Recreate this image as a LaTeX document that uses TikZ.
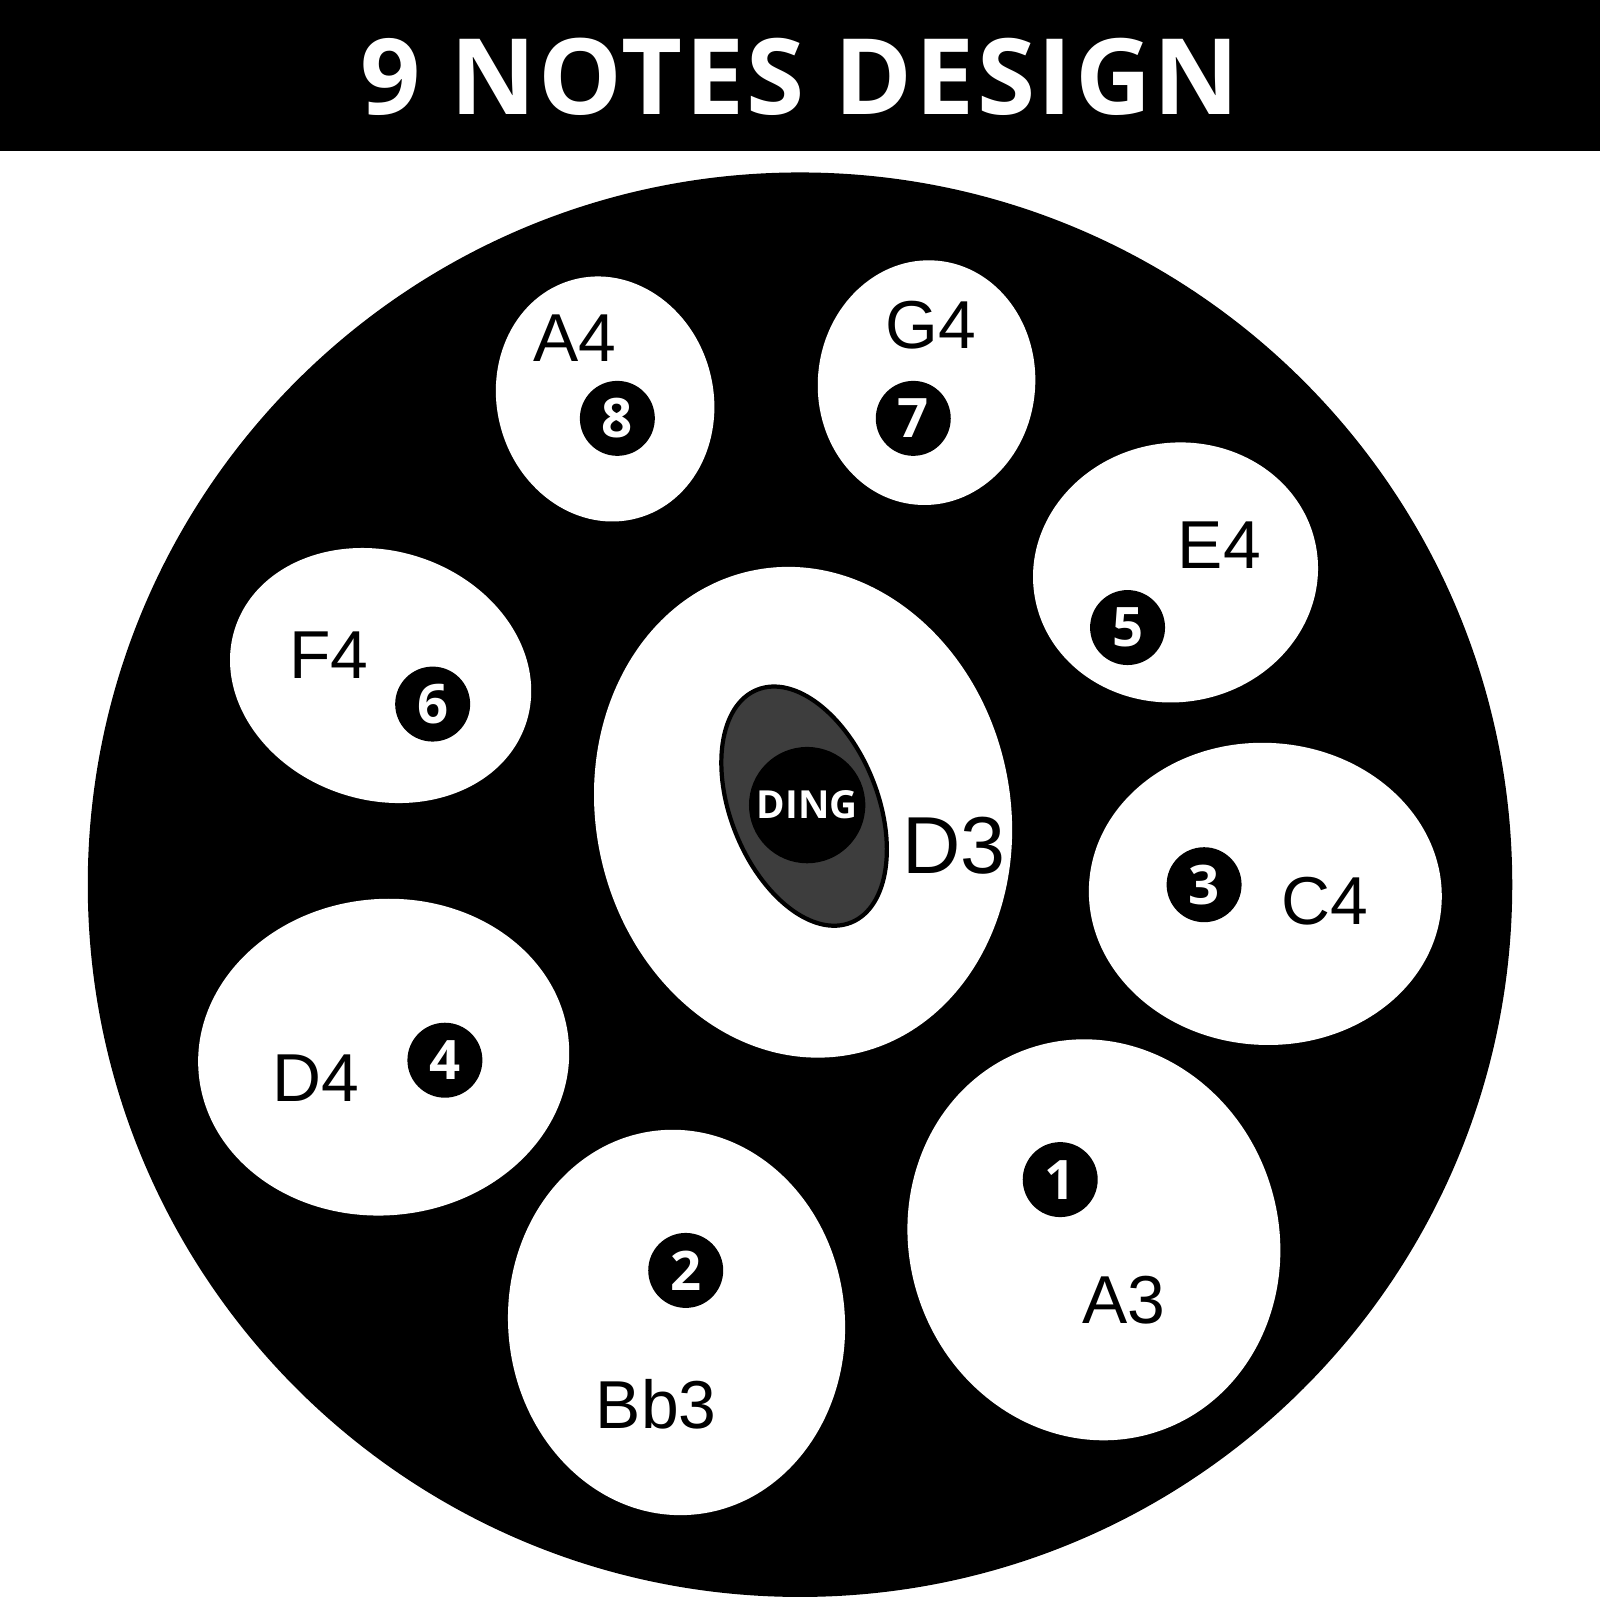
\documentclass[tikz,border=0pt]{standalone}
\usepackage{fontspec}
\setmainfont{Liberation Sans}
\newfontfamily\titlefont[LetterSpace=2.4]{Open Sans}
\newfontfamily\numfont{Open Sans}
\usetikzlibrary{shapes.geometric}
\tikzset{
  pad/.style 2 args={ellipse, fill=white, draw=none, inner sep=0pt,
    minimum width=#1*0.0102041cm, minimum height=#2*0.0102041cm},
  numc/.style={circle, fill=black, text=white, inner sep=0pt, minimum size=0.75cm,
    font=\numfont\bfseries\fontsize{15.5}{15.5}\selectfont},
  lbl/.style={text=black, inner sep=0pt, font=\fontsize{19.3}{19.3}\selectfont},
}
\begin{document}
\begin{tikzpicture}[x=0.0102041cm,y=-0.0102041cm]
\useasboundingbox (0,0) rectangle (1568,1568);
\fill[white] (0,0) rectangle (1568,1568);
% header
\fill[black] (0,0) rectangle (1568,148);
\node[text=white, inner sep=0pt, font=\titlefont\bfseries\fontsize{30}{30}\selectfont] (title) at (784,75) {9 NOTES DESIGN};
% drum
\node[circle, fill=black, inner sep=0pt, minimum size=1396*0.0102041cm] (drum) at (784,867) {};
% pads
\node[pad={212}{242}, rotate=15] (pA4) at (593,391) {};
\node[pad={213}{240}, rotate=-5] (pG4) at (908,375) {};
\node[pad={280}{254}, rotate=10] (pE4) at (1152,561) {};
\node[pad={300}{244}, rotate=-18] (pF4) at (373,662) {};
\node[pad={406}{484}, rotate=12] (pD3) at (787,796) {};
\node[pad={346}{296}, rotate=-3] (pC4) at (1240,876) {};
\node[pad={364}{310}, rotate=5] (pD4) at (376,1036) {};
\node[pad={330}{378}, rotate=5] (pBb3) at (663,1296) {};
\node[pad={362}{396}, rotate=18] (pA3) at (1072,1215) {};
% ding
\node[ellipse, fill=black!76, draw=black, line width=1.2pt, inner sep=0pt,
  minimum width=144*0.0102041cm, minimum height=246*0.0102041cm, rotate=22] (ding) at (788,790) {};
\node[circle, fill=black, inner sep=0pt, text=white,
  minimum size=114*0.0102041cm,
  font=\numfont\bfseries\fontsize{11}{11}\selectfont] (dingc) at (791,789) {DING};
% labels
\node[lbl, font=\fontsize{23}{23}\selectfont] (tD3) at (935,829) {D3};
\node[lbl] (tA4) at (563,331) {A4};
\node[lbl] (tG4) at (912,319) {G4};
\node[lbl] (tE4) at (1195,534) {E4};
\node[lbl] (tF4) at (322,642) {F4};
\node[lbl] (tC4) at (1298,883) {C4};
\node[lbl] (tD4) at (310,1057) {D4};
\node[lbl] (tA3) at (1101,1274) {A3};
\node[lbl] (tBb3) at (643,1376) {Bb3};
% numbers
\node[numc] (n1) at (1039,1156) {1};
\node[numc] (n2) at (672,1245) {2};
\node[numc] (n3) at (1180,867) {3};
\node[numc] (n4) at (436,1039) {4};
\node[numc] (n5) at (1105,615) {5};
\node[numc] (n6) at (424,690) {6};
\node[numc] (n7) at (895,410) {7};
\node[numc] (n8) at (605,410) {8};
\end{tikzpicture}
\end{document}
